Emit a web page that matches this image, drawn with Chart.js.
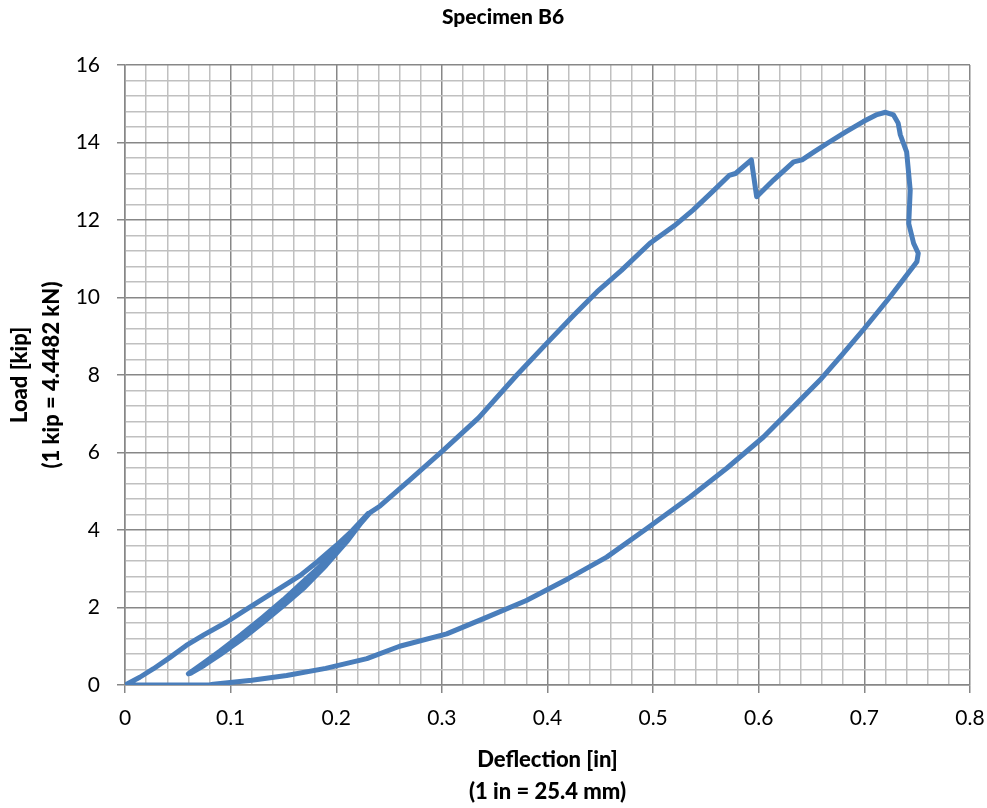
<!DOCTYPE html>
<html>
<head>
<meta charset="utf-8">
<title>Specimen B6</title>
<script src="https://cdn.jsdelivr.net/npm/chart.js@4.4.1/dist/chart.umd.min.js"></script>
<style>
  body { margin: 0; background: #fff; }
  #wrap { width: 987px; height: 808px; }
</style>
</head>
<body>
<div id="wrap"><canvas id="grafico"></canvas></div>
<script>
// deflection [in] and load [kip] in drawing order
const deflection = [
  0, 0.014, 0.027, 0.042, 0.058, 0.075, 0.096, 0.113, 0.131, 0.148, 0.166, 0.183, 0.200, 0.215, 0.230,
  0.21, 0.19, 0.17, 0.15, 0.13, 0.11, 0.09, 0.075, 0.06,
  0.075, 0.09, 0.11, 0.13, 0.15, 0.17, 0.19, 0.21, 0.23,
  0.21, 0.19, 0.17, 0.15, 0.13, 0.11, 0.09, 0.075, 0.062,
  0.075, 0.09, 0.11, 0.13, 0.15, 0.17, 0.19, 0.21, 0.232,
  0.2415, 0.27, 0.3015, 0.335, 0.371, 0.399, 0.425, 0.447, 0.47, 0.497, 0.52, 0.538, 0.555, 0.572, 0.578,
  0.593, 0.598, 0.614, 0.633, 0.641, 0.652, 0.665, 0.682, 0.699, 0.712, 0.72, 0.7276, 0.732, 0.734,
  0.740, 0.7434, 0.742, 0.7466, 0.751, 0.7497,
  0.7244, 0.700, 0.680, 0.658, 0.630, 0.6045, 0.57, 0.535, 0.494, 0.456, 0.42, 0.380, 0.34, 0.3046,
  0.26, 0.229, 0.19, 0.153, 0.12, 0.0836, 0.08, 0
];
const load = [
  0, 0.2, 0.42, 0.7, 1.02, 1.3, 1.62, 1.92, 2.23, 2.52, 2.83, 3.2, 3.6, 3.98, 4.42,
  3.72, 3.1, 2.55, 2.08, 1.64, 1.2, 0.8, 0.53, 0.29,
  0.58, 0.88, 1.3, 1.74, 2.2, 2.7, 3.2, 3.78, 4.42,
  3.7, 3.08, 2.52, 2.05, 1.6, 1.17, 0.78, 0.51, 0.3,
  0.56, 0.86, 1.28, 1.72, 2.18, 2.68, 3.18, 3.76, 4.45,
  4.62, 5.3, 6.06, 6.9, 8.0, 8.81, 9.55, 10.15, 10.7, 11.4, 11.85, 12.26, 12.7, 13.15, 13.2,
  13.55, 12.6, 13.03, 13.5, 13.55, 13.75, 13.98, 14.27, 14.54, 14.72, 14.78, 14.71, 14.5, 14.2,
  13.76, 12.77, 11.91, 11.4, 11.14, 10.92,
  10.02, 9.2, 8.56, 7.87, 7.1, 6.4, 5.6, 4.85, 4.04, 3.3, 2.75, 2.18, 1.72, 1.32,
  1.0, 0.68, 0.43, 0.245, 0.12, 0.02, 0, 0
];

const xMajor = [0, 0.1, 0.2, 0.3, 0.4, 0.5, 0.6, 0.7, 0.8];
const xLabels = ['0', '0.1', '0.2', '0.3', '0.4', '0.5', '0.6', '0.7', '0.8'];
const yMajor = [0, 2, 4, 6, 8, 10, 12, 14, 16];
const yLabels = ['0', '2', '4', '6', '8', '10', '12', '14', '16'];
const subdivisiones = 5;

const colorMayor = '#878787';
const colorMenor = '#c0c0c0';

Chart.defaults.font.family = 'Lato, "Open Sans", sans-serif';
Chart.defaults.color = '#000';

function construirTicks(mayores) {
  const ticks = [];
  for (let i = 0; i < mayores.length; i++) {
    ticks.push({ value: mayores[i] });
    if (i < mayores.length - 1) {
      const paso = (mayores[i + 1] - mayores[i]) / subdivisiones;
      for (let j = 1; j < subdivisiones; j++) {
        ticks.push({ value: mayores[i] + paso * j });
      }
    }
  }
  return ticks;
}

function indiceMayor(mayores, v) {
  return mayores.findIndex(m => Math.abs(m - v) < 1e-9);
}

function ejeConfig(mayores, etiquetas, titulo, extra) {
  return Object.assign({
    type: 'linear',
    min: mayores[0],
    max: mayores[mayores.length - 1],
    afterBuildTicks: (scale) => { scale.ticks = construirTicks(mayores); },
    ticks: {
      autoSkip: false,
      maxRotation: 0,
      font: { size: 21 },
      color: '#000',
      callback: (value) => {
        const k = indiceMayor(mayores, value);
        return k >= 0 ? etiquetas[k] : '';
      }
    },
    grid: {
      lineWidth: 1.5,
      tickLength: 8,
      color: (ctx) => (ctx.tick && indiceMayor(mayores, ctx.tick.value) >= 0) ? colorMayor : colorMenor,
      tickColor: (ctx) => (ctx.tick && indiceMayor(mayores, ctx.tick.value) >= 0) ? colorMayor : 'rgba(0,0,0,0)'
    },
    border: { color: colorMayor, width: 1.5 },
    title: titulo
  }, extra);
}

// margen izquierdo del layout: centra el titulo como en la figura
const margenIzq = 36;

const ctx = document.getElementById('grafico').getContext('2d');
const chart = new Chart(ctx, {
  type: 'scatter',
  data: {
    datasets: [{
      label: 'Specimen B6',
      data: deflection.map((d, i) => ({ x: d, y: load[i] })),
      showLine: true,
      borderColor: '#4a7ebb',
      backgroundColor: '#4a7ebb',
      borderWidth: 5,
      borderCapStyle: 'round',
      borderJoinStyle: 'round',
      pointRadius: 0,
      pointHoverRadius: 0,
      tension: 0
    }]
  },
  options: {
    responsive: true,
    maintainAspectRatio: false,
    animation: false,
    layout: { padding: { left: margenIzq, right: 17, top: 0, bottom: 0 } },
    plugins: {
      legend: { display: false },
      tooltip: { enabled: false },
      title: {
        display: true,
        text: 'Specimen B6',
        color: '#000',
        font: { size: 21, weight: 900 },
        padding: { top: 5, bottom: 34.8 }
      }
    },
    scales: {
      x: ejeConfig(xMajor, xLabels, {
        display: true,
        text: ['Deflection [in]', '(1 in = 25.4 mm)'],
        color: '#000',
        font: { size: 22, weight: 900, lineHeight: 1.45 },
        padding: { top: 0, bottom: 0 }
      }, {
        position: 'bottom',
        afterFit: (scale) => {
          scale.height = 123;
          scale.paddingLeft = 0;
          scale.paddingRight = 0;
        }
      }),
      y: ejeConfig(yMajor, yLabels, {
        display: true,
        text: ['Load [kip]', '(1 kip = 4.4482 kN)'],
        color: '#000',
        font: { size: 22, weight: 900, lineHeight: 1.45 },
        padding: { top: 4 - margenIzq, bottom: 0 }
      }, {
        position: 'left',
        afterFit: (scale) => { scale.width = 125 - margenIzq; }
      })
    }
  }
});
chart.options.scales.x.ticks.padding = 13;
chart.options.scales.y.ticks.padding = 17;
chart.update();
</script>
</body>
</html>
